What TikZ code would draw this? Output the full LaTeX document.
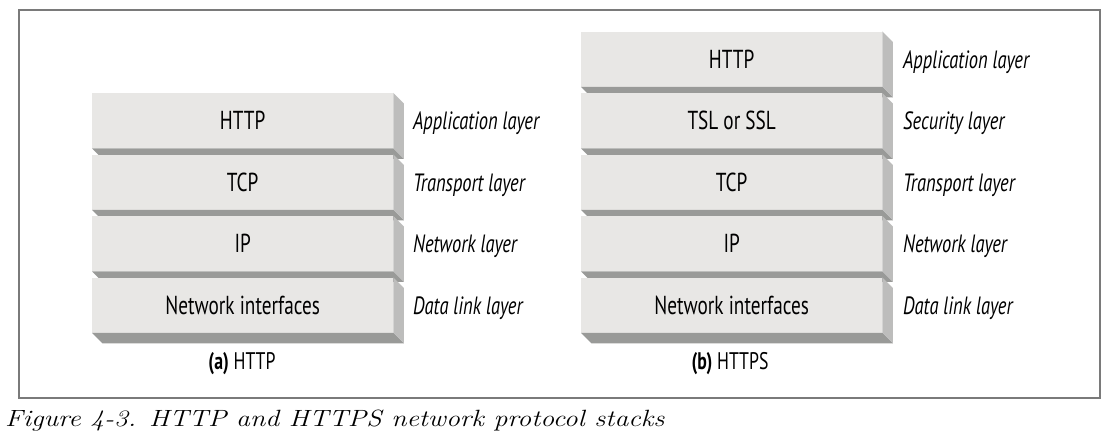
\documentclass[tikz,border=0pt]{standalone}
\usepackage{fontspec}
\newfontfamily\boxfamily[FakeStretch=0.74]{PT Sans}
\newfontfamily\figfamily[FakeStretch=1.18]{Latin Modern Roman}
\newcommand\boxfont{\boxfamily\fontsize{26bp}{30bp}\selectfont}
\newcommand\labfont{\boxfamily\itshape\fontsize{25bp}{30bp}\selectfont}
\newcommand\capfont{\boxfamily\fontsize{24bp}{30bp}\selectfont}
\newcommand\figfont{\figfamily\itshape\fontsize{23.5bp}{27bp}\selectfont}
\definecolor{frontc}{HTML}{E8E7E5}
\definecolor{bottomc}{HTML}{999A98}
\definecolor{sidec}{HTML}{BDBDBC}
\definecolor{framec}{HTML}{7A7A7A}
\tikzset{
  front/.style={fill=frontc, minimum width=301bp, minimum height=55bp, inner sep=0pt, anchor=north west, font=\boxfont},
  laytext/.style={anchor=base west, inner sep=0pt, font=\labfont},
  subcap/.style={anchor=base, inner sep=0pt, font=\capfont},
}
\newcommand\stacklayer[4]{%
  \node[front] (#1) at (#2,#3) {#4};
  \fill[bottomc] (#1.south west) -- (#1.south east) -- ++(10.5,10.5) -- ([shift={(10.5,10.5)}]#1.south west) -- cycle;
  \fill[sidec] (#1.north east) -- ++(10.5,10.5) -- ([shift={(10.5,10.5)}]#1.south east) -- (#1.south east) -- cycle;
}
\begin{document}
\begin{tikzpicture}[x=1bp,y=-1bp]
\useasboundingbox[fill=white] (0,0) rectangle (1114,440);
\node[draw=framec, line width=1.6bp, minimum width=1081bp, minimum height=388bp, anchor=north west, inner sep=0pt] (frame) at (18,9) {};
% left stack
\stacklayer{ahttp}{92}{93}{HTTP}
\stacklayer{atcp}{92}{154.5}{TCP}
\stacklayer{aip}{92}{216}{IP}
\stacklayer{anet}{92}{277.5}{Network interfaces}
\node[laytext] (aapp) at (413,130) {Application layer};
\node[laytext] (atra) at (413,191.5) {Transport layer};
\node[laytext] (anetl) at (413,253) {Network layer};
\node[laytext] (adat) at (413,314.5) {Data link layer};
\node[subcap] (acap) at (242,370) {\textbf{(a)} HTTP};
% right stack
\stacklayer{bhttp}{581}{31.5}{HTTP}
\stacklayer{btsl}{581}{93}{TSL or SSL}
\stacklayer{btcp}{581}{154.5}{TCP}
\stacklayer{bip}{581}{216}{IP}
\stacklayer{bnet}{581}{277.5}{Network interfaces}
\node[laytext] (bapp) at (903,68.5) {Application layer};
\node[laytext] (bsec) at (903,130) {Security layer};
\node[laytext] (btra) at (903,191.5) {Transport layer};
\node[laytext] (bnetl) at (903,253) {Network layer};
\node[laytext] (bdat) at (903,314.5) {Data link layer};
\node[subcap] (bcap) at (730,370) {\textbf{(b)} HTTPS};
% figure caption
\node[anchor=base west, inner sep=0pt, font=\figfont] (fig) at (5,427) {Figure 4-3. HTTP and HTTPS network protocol stacks};
\end{tikzpicture}
\end{document}
